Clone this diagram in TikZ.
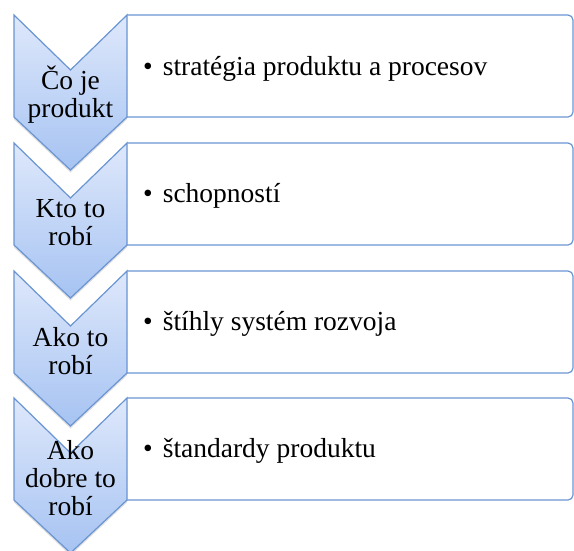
\documentclass[tikz,border=0pt]{standalone}
\usepackage{fontspec}
\setmainfont{Liberation Serif}
\usetikzlibrary{positioning}
\usetikzlibrary{shadows}
\usepackage{xcolor}
\definecolor{chevtop}{HTML}{DEE8FB}
\definecolor{chevbot}{HTML}{A6C3F2}
\definecolor{edgeblue}{HTML}{6A95D3}

\begin{document}
\begin{tikzpicture}[x=1pt, y=-1pt,
        chevron/.style={draw=edgeblue, line width=1.2pt, line join=miter,
          top color=chevtop, bottom color=chevbot,
          drop shadow={shadow xshift=0pt, shadow yshift=-2.5pt,
            opacity=0.25}},
        panel/.style={draw=edgeblue, line width=1.2pt, rounded corners=5pt},
        lbl/.style={align=center, inner sep=0pt,
          font=\fontsize{27.5}{28}\selectfont},
        item/.style={anchor=base west, inner sep=0pt,
          font=\fontsize{27.5}{28}\selectfont},
      ]

      \useasboundingbox (0,0) rectangle (574,550);

      % Panels (right side, rounded on the right only)
      \draw[panel] (127,117) -- (573,117) -- (573,15) -- (127,15);
      \draw[panel] (127,245) -- (573,245) -- (573,143) -- (127,143);
      \draw[panel] (127,373) -- (573,373) -- (573,271) -- (127,271);
      \draw[panel] (127,500) -- (573,500) -- (573,398) -- (127,398);

      % Chevrons
      \path[chevron] (14,15) -- (70.5,70) -- (127,15) -- (127,117)
        -- (70.5,170) -- (14,117) -- cycle;
      \path[chevron] (14,143) -- (70.5,198) -- (127,143) -- (127,245)
        -- (70.5,298) -- (14,245) -- cycle;
      \path[chevron] (14,271) -- (70.5,326) -- (127,271) -- (127,373)
        -- (70.5,426) -- (14,373) -- cycle;
      \path[chevron] (14,398) -- (70.5,453) -- (127,398) -- (127,500)
        -- (70.5,553) -- (14,500) -- cycle;

      % Chevron labels
      \node[lbl] (lbl1) at (70.5,95) {Čo je\\produkt};
      \node[lbl] (lbl2) at (70.5,223) {Kto to\\robí};
      \node[lbl] (lbl3) at (70.5,351) {Ako to\\robí};
      \node[lbl] (lbl4) at (70.5,478) {Ako\\dobre to\\robí};

      % Panel items
      \node[item] (txt1) at (143,75)
        {\textbullet\hspace{10pt}stratégia produktu a procesov};
      \node[item] (txt2) at (143,202)
        {\textbullet\hspace{10pt}schopností};
      \node[item] (txt3) at (143,330)
        {\textbullet\hspace{10pt}štíhly systém rozvoja};
      \node[item] (txt4) at (143,457)
        {\textbullet\hspace{10pt}štandardy produktu};

      \end{tikzpicture}
\end{document}
